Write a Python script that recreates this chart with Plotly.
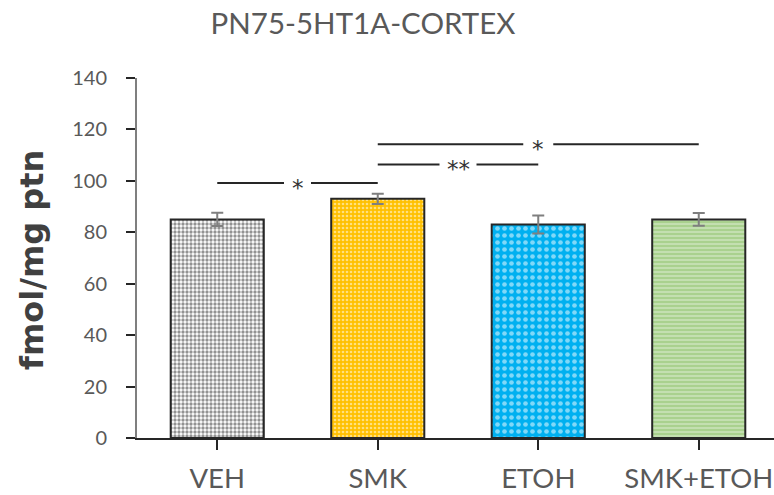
import plotly.graph_objects as go

categories = ["VEH", "SMK", "ETOH", "SMK+ETOH"]
means = [85, 93, 83, 85]
sems = [2.6, 2.0, 3.5, 2.5]
y_ticks = [0, 20, 40, 60, 80, 100, 120, 140]

# significance brackets: (from index, to index, y level, label)
sig_from = [0, 1, 1]
sig_to = [1, 2, 3]
sig_y = [99.2, 106.4, 114.2]
sig_label = ["*", "**", "*"]
sig_gap_px = [27, 37, 30]

bar_colors = ["#FFFFFF", "#FFC000", "#00B0F0", "#A9D18E"]
pat_fg = ["#262626", "#FFFFFF", "#FFFFFF", "#FFFFFF"]
pat_shape = [".", ".", ".", "-"]
pat_size = [4, 4, 7, 4]
pat_solid = [0.55, 0.35, 0.35, 0.3]

W, H = 774, 495
ml, mt, mb = 137, 78, 57
px_per_cat = 160.5
x_hi = -0.5 + (W - ml) / px_per_cat

fig = go.Figure()
for i, cat in enumerate(categories):
    fig.add_trace(go.Bar(
        x=[i], y=[means[i]], name=cat,
        width=0.58,
        marker=dict(
            color=bar_colors[i],
            line=dict(color="#262626", width=2),
            pattern=dict(shape=pat_shape[i], fgcolor=pat_fg[i],
                         size=pat_size[i], solidity=pat_solid[i],
                         fillmode="overlay"),
        ),
        error_y=dict(type="data", array=[sems[i]], visible=True, color="#7F7F7F",
                     thickness=2, width=6),
        showlegend=False,
    ))

for a, b, yv, lab, gp in zip(sig_from, sig_to, sig_y, sig_label, sig_gap_px):
    mid = (a + b) / 2
    half = gp / 2 / px_per_cat
    fig.add_trace(go.Scatter(
        x=[a, mid - half, None, mid + half, b],
        y=[yv, yv, None, yv, yv],
        mode="lines", line=dict(color="#262626", width=2),
        showlegend=False, hoverinfo="skip",
    ))
    fig.add_annotation(x=mid, y=yv, text=lab, showarrow=False,
                       font=dict(family="DejaVu Sans", size=23, color="#333333"),
                       yshift=-5)

plot_h = H - mt - mb
fig.add_annotation(
    text="<b>fmol/mg ptn</b>", textangle=-90, showarrow=False,
    xref="paper", yref="paper",
    x=(32 - ml) / (W - ml), y=(H - mb - 260) / plot_h,
    xanchor="center", yanchor="middle",
    font=dict(family="DejaVu Sans", size=32, color="#404040"),
)

fig.update_layout(
    width=W, height=H,
    margin=dict(l=ml, r=0, t=mt, b=mb, autoexpand=False),
    paper_bgcolor="white", plot_bgcolor="white",
    barmode="overlay",
    title=dict(text="PN75-5HT1A-CORTEX", x=363 / W, xanchor="center",
               y=1 - 24 / H, yanchor="middle",
               font=dict(family="Lato", size=29.5, color="#595959")),
)
fig.update_xaxes(
    range=[-0.5, x_hi], tickvals=list(range(len(categories))), ticktext=categories,
    tickson="boundaries", ticks="outside", ticklen=10, tickwidth=2, tickcolor="#262626",
    showline=True, linecolor="#262626", linewidth=2,
    showgrid=False, zeroline=False, automargin=False,
    tickfont=dict(family="Lato", size=27.5, color="#595959"),
    ticklabelstandoff=5, ticklabeloverflow="allow",
)
fig.update_yaxes(
    range=[0, 140], tickvals=y_ticks,
    ticks="outside", ticklen=9, tickwidth=2, tickcolor="#262626",
    showline=True, linecolor="#7F7F7F", linewidth=2,
    showgrid=False, zeroline=False, automargin=False,
    tickfont=dict(family="Lato", size=20, color="#595959"),
    ticklabelstandoff=15,
)
fig.write_html("out.html")
